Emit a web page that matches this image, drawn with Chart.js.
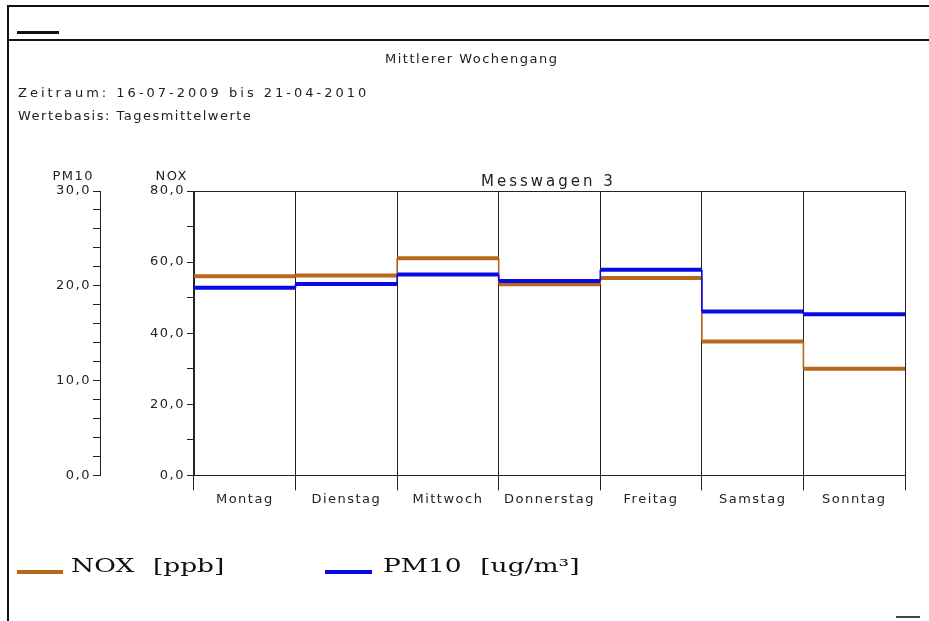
<!DOCTYPE html>
<html>
<head>
<meta charset="utf-8">
<title>Mittlerer Wochengang</title>
<script src="https://cdn.jsdelivr.net/npm/chart.js@4.4.0/dist/chart.umd.min.js"></script>
<style>
  html, body { margin: 0; padding: 0; background: #fff; }
  #page { position: relative; width: 929px; height: 621px; overflow: hidden; background: #fff;
          font-family: "DejaVu Sans", sans-serif; color: #222; }
  #chart { position: absolute; left: 0; top: 0; }
  .rule { position: absolute; background: #111; }
  .txt { position: absolute; font-size: 13px; line-height: 14px; letter-spacing: 1.5px; white-space: nowrap; }
  .swatch { position: absolute; height: 4px; }
  .legtxt { position: absolute; font-family: "DejaVu Serif", serif; font-size: 18px; line-height: 20px;
            color: #111; white-space: nowrap; transform-origin: 0 50%; transform: scaleX(1.47); word-spacing: 7px; }
</style>
</head>
<body>
<div id="page">
  <canvas id="chart" width="929" height="621"></canvas>

  <!-- page frame -->
  <div class="rule" style="left:8px;top:5px;width:921px;height:2px"></div>
  <div class="rule" style="left:8px;top:39px;width:921px;height:2px"></div>
  <div class="rule" style="left:7px;top:5px;width:2px;height:616px"></div>
  <div class="rule" style="left:17px;top:31px;width:42px;height:3px"></div>
  <div class="rule" style="left:896px;top:616px;width:24px;height:2px;background:#444"></div>

  <!-- header -->
  <div class="txt" id="mainTitle" style="left:385px;top:52px"></div>
  <div class="txt" id="period" style="left:18px;top:86px;letter-spacing:3px"></div>
  <div class="txt" id="basis" style="left:18px;top:109px"></div>
  <div class="txt" id="station" style="left:481px;top:174px;font-size:15px;letter-spacing:3px"></div>

  <!-- legend -->
  <div class="swatch" id="sw0" style="left:17px;top:570px;width:46px"></div>
  <div class="legtxt" id="lg0" style="left:71px;top:556px"></div>
  <div class="swatch" id="sw1" style="left:325px;top:570px;width:47px"></div>
  <div class="legtxt" id="lg1" style="left:383px;top:556px"></div>
</div>

<script>
// Weekday categories and the mean value of each series per weekday
const days = ['Montag', 'Dienstag', 'Mittwoch', 'Donnerstag', 'Freitag', 'Samstag', 'Sonntag'];
const noxValues  = [56.0, 56.2, 61.1, 53.8, 55.5, 37.7, 30.0];   // ppb
const pm10Values = [19.8, 20.2, 21.2, 20.5, 21.7, 17.3, 17.0];   // ug/m³

// Texts
const mainTitle = 'Mittlerer Wochengang';
const periodText = 'Zeitraum: 16-07-2009 bis 21-04-2010';
const basisText = 'Wertebasis: Tagesmittelwerte';
const stationText = 'Messwagen 3';
const axisNames = ['PM10', 'NOX'];
const legendLabels = ['NOX [ppb]', 'PM10 [ug/m³]'];

// Axis ranges
const noxRange = [0, 80];
const pm10Range = [0, 30];

const noxColor = '#B8681A';
const pm10Color = '#0A0AE6';
const inkColor = '#222';
const tickFont = { family: 'DejaVu Sans', size: 13 };
const textSpacing = '1.5px';

document.getElementById('mainTitle').textContent = mainTitle;
document.getElementById('period').textContent = periodText;
document.getElementById('basis').textContent = basisText;
document.getElementById('station').textContent = stationText;
document.getElementById('lg0').textContent = legendLabels[0];
document.getElementById('lg1').textContent = legendLabels[1];
document.getElementById('sw0').style.background = noxColor;
document.getElementById('sw1').style.background = pm10Color;

// One horizontal run per weekday, joined by vertical steps at the day boundaries
function stepPoints(values) {
  const pts = [];
  values.forEach((v, i) => {
    pts.push({ x: i, y: v });
    pts.push({ x: i + 1, y: v });
  });
  return pts;
}

// thick horizontal runs, thin vertical connectors
const stepSegment = {
  borderWidth: ctx => (ctx.p0.parsed.x === ctx.p1.parsed.x ? 1.6 : 4)
};

const commaLabel = step => function (value) {
  return value % step === 0 ? value.toFixed(1).replace('.', ',') : '';
};

const spacingPlugin = {
  id: 'letterSpacing',
  beforeLayout(chart) { chart.ctx.letterSpacing = textSpacing; },
  beforeDraw(chart) { chart.ctx.letterSpacing = textSpacing; }
};

// short axis names above the value axes
const axisNamePlugin = {
  id: 'axisNames',
  afterDraw(chart) {
    const ctx = chart.ctx;
    ctx.save();
    ctx.letterSpacing = textSpacing;
    ctx.font = '13px "DejaVu Sans"';
    ctx.fillStyle = inkColor;
    ctx.textAlign = 'right';
    ctx.textBaseline = 'middle';
    [['y2', axisNames[0]], ['y', axisNames[1]]].forEach(([id, name]) => {
      const s = chart.scales[id];
      ctx.fillText(name, s.right - 6, s.top - 14);
    });
    ctx.restore();
  }
};

new Chart(document.getElementById('chart'), {
  type: 'line',
  data: {
    datasets: [
      {
        label: legendLabels[0],
        data: stepPoints(noxValues),
        xAxisID: 'xv',
        yAxisID: 'y',
        borderColor: noxColor,
        backgroundColor: noxColor,
        borderWidth: 4,
        borderCapStyle: 'butt',
        pointRadius: 0,
        tension: 0,
        order: 2,
        segment: stepSegment
      },
      {
        label: legendLabels[1],
        data: stepPoints(pm10Values),
        xAxisID: 'xv',
        yAxisID: 'y2',
        borderColor: pm10Color,
        backgroundColor: pm10Color,
        borderWidth: 4,
        borderCapStyle: 'butt',
        pointRadius: 0,
        tension: 0,
        order: 1,
        segment: stepSegment
      }
    ]
  },
  options: {
    responsive: false,
    animation: false,
    devicePixelRatio: 1,
    layout: { padding: { left: 10, right: 24, top: 191, bottom: 113 } },
    plugins: {
      legend: { display: false },
      tooltip: { enabled: false },
      title: { display: false }
    },
    scales: {
      xv: { type: 'linear', display: false, min: 0, max: days.length },
      x: {
        type: 'category',
        labels: days,
        position: 'bottom',
        offset: true,
        grid: { offset: true, color: inkColor, lineWidth: 1, tickLength: 15, tickColor: inkColor },
        border: { color: inkColor, width: 1 },
        ticks: { font: tickFont, color: inkColor, padding: 1, autoSkip: false, maxRotation: 0 }
      },
      xt: {
        type: 'linear',
        position: 'top',
        min: 0,
        max: days.length,
        ticks: { display: false },
        grid: { display: false, drawTicks: false },
        border: { color: inkColor, width: 1 }
      },
      y: {
        type: 'linear',
        position: 'left',
        weight: 0,
        min: noxRange[0],
        max: noxRange[1],
        afterFit: s => { s.width = 94; },
        grid: { drawOnChartArea: false, tickLength: 7, tickColor: inkColor },
        border: { color: inkColor, width: 1 },
        ticks: { stepSize: 10, maxTicksLimit: 100, autoSkip: false, font: tickFont, color: inkColor,
                 padding: 2, callback: commaLabel(20) }
      },
      y2: {
        type: 'linear',
        position: 'left',
        weight: 1,
        min: pm10Range[0],
        max: pm10Range[1],
        afterFit: s => { s.width = 90; },
        grid: { drawOnChartArea: false, tickLength: 7, tickColor: inkColor },
        border: { color: inkColor, width: 1 },
        ticks: { stepSize: 2, maxTicksLimit: 100, autoSkip: false, font: tickFont, color: inkColor,
                 padding: 2, callback: commaLabel(10) }
      }
    }
  },
  plugins: [spacingPlugin, axisNamePlugin]
});
</script>
</body>
</html>
